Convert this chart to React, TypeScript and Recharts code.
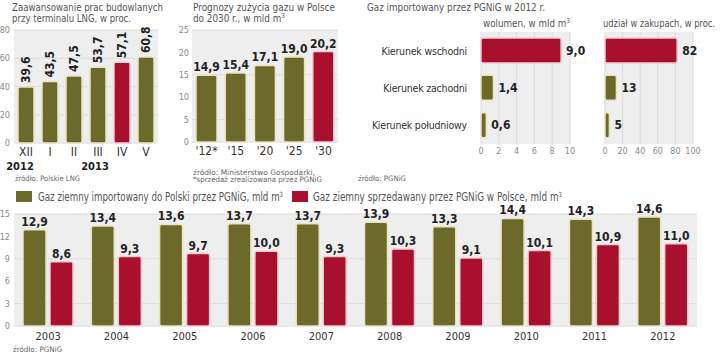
import React from "react";
import { BarChart, Bar, XAxis, YAxis, CartesianGrid, LabelList, Cell } from "recharts";

const lngMonths = ["XII", "I", "II", "III", "IV", "V"];
const lngYears = ["2012", "", "", "2013", "", ""];
const lngProgress = [39.6, 43.5, 47.5, 53.7, 57.1, 60.8];
const lngTicks = [0, 20, 40, 60, 80];

const forecastYears = ["'12*", "'15", "'20", "'25", "'30"];
const forecastUse = [14.9, 15.4, 17.1, 19.0, 20.2];
const forecastTicks = [0, 5, 10, 15, 20, 25];

const directions = ["Kierunek wschodni", "Kierunek zachodni", "Kierunek południowy"];
const importVolume = [9.0, 1.4, 0.6];
const importShare = [82, 13, 5];
const volumeTicks = [0, 2, 4, 6, 8, 10];
const shareTicks = [0, 20, 40, 60, 80, 100];

const years = ["2003", "2004", "2005", "2006", "2007", "2008", "2009", "2010", "2011", "2012"];
const imported = [12.9, 13.4, 13.6, 13.7, 13.7, 13.9, 13.3, 14.4, 14.3, 14.6];
const sold = [8.6, 9.3, 9.7, 10.0, 9.3, 10.3, 9.1, 10.1, 10.9, 11.0];
const yearTicks = [0, 3, 6, 9, 12, 15];

const GREEN = "#6b6a2b";
const RED = "#a8102e";
const GREEN_EDGE = "#e9e4c2";
const RED_EDGE = "#f0cbd3";
const BG = "#eeeeee";
const GRID = "#dcdcdc";
const FONT = "'DejaVu Sans Condensed', 'Roboto', sans-serif";

const dec = (v: number) => v.toFixed(1).replace(".", ",");
const int = (v: number) => String(Math.round(v));

const lngData = lngMonths.map((m, i) => ({ name: m, v: lngProgress[i] }));
const forecastData = forecastYears.map((y, i) => ({ name: y, v: forecastUse[i] }));
const importData = directions.map((d, i) => ({ name: d, vol: importVolume[i], share: importShare[i] }));
const yearData = years.map((y, i) => ({ name: y, imp: imported[i], sold: sold[i] }));

const numTick = { fill: "#8a8a8a", fontSize: 9, fontFamily: FONT };
const catTick = { fill: "#333", fontSize: 12, fontFamily: FONT };
const valueStyle = { fill: "#222", fontSize: 12, fontWeight: 700, fontFamily: FONT };

const VertLabel = (props: any) => {
  const { x, y, width, value } = props;
  const cx = x + width / 2;
  const ty = y - 4;
  return (
    <text x={cx} y={ty} transform={`rotate(-90 ${cx} ${ty})`} textAnchor="start" dominantBaseline="central" {...valueStyle}>
      {dec(value)}
    </text>
  );
};

const MonthTick = (props: any) => {
  const { x, y, payload, index } = props;
  const yr = lngYears[index];
  return (
    <g>
      <text x={x} y={y + 5} textAnchor="middle" {...catTick}>
        {payload.value}
      </text>
      {yr && (
        <text x={x + (index === 0 ? -6 : -3)} y={y + 19} textAnchor="middle" {...catTick} fontSize={11} fill="#222" fontWeight={600}>
          {yr}
        </text>
      )}
    </g>
  );
};

const DirTick = (props: any) => {
  const { x, y, payload } = props;
  return (
    <text x={x} y={y} dy={4} textAnchor="end" fill="#333" fontSize={10.5} fontFamily={FONT} letterSpacing={-0.2}>
      {payload.value}
    </text>
  );
};

// free text drawn in one overlay, squeezed to the widths of the narrow original face
const T = ({ x, y, len, size = 10.5, fill = "#555", children }: any) => (
  <text x={x} y={y} fontSize={size} fill={fill} fontFamily={FONT} textLength={len} lengthAdjust="spacingAndGlyphs">
    {children}
  </text>
);
const Sup = () => (
  <tspan dy={-4} fontSize={7}>
    3
  </tspan>
);

function Overlay() {
  return (
    <svg width={720} height={354} style={{ position: "absolute", left: 0, top: 0, pointerEvents: "none" }}>
      <T x={12} y={11} len={151}>Zaawansowanie prac budowlanych</T>
      <T x={12} y={22} len={119}>przy terminalu LNG, w proc.</T>
      <T x={193} y={11} len={142}>Prognozy zużycia gazu w Polsce</T>
      <T x={193} y={22} len={92}>
        do 2030 r., w mld m<Sup />
      </T>
      <T x={367} y={11} len={178}>Gaz importowany przez PGNiG w 2012 r.</T>
      <T x={483} y={27} len={87}>
        wolumen, w mld m<Sup />
      </T>
      <T x={603} y={27} len={112}>udział w zakupach, w proc.</T>

      <T x={15} y={181} len={65} size={7.5} fill="#666">źródło: Polskie LNG</T>
      <T x={193} y={175} len={122} size={7.5} fill="#666">źródło: Ministerstwo Gospodarki,</T>
      <T x={193} y={182} len={129} size={7.5} fill="#666">*sprzedaż zrealizowana przez PGNiG</T>
      <T x={358} y={181} len={48} size={7.5} fill="#666">źródło: PGNiG</T>

      <rect x={16} y={191} width={16} height={11} fill={GREEN} />
      <T x={38} y={201} len={245} size={11.5}>
        Gaz ziemny importowany do Polski przez PGNiG, mld m<Sup />
      </T>
      <rect x={292} y={191} width={16} height={11} fill={RED} />
      <T x={313} y={201} len={249} size={11.5}>
        Gaz ziemny sprzedawany przez PGNiG w Polsce, mld m<Sup />
      </T>

      <T x={13} y={352} len={49} size={7.5} fill="#666">źródło: PGNiG</T>
    </svg>
  );
}

export default function App() {
  return (
    <div style={{ position: "absolute", left: 0, top: 0, width: 720, height: 354, background: "#fff", overflow: "hidden" }}>
      {/* LNG terminal progress */}
      <div style={{ position: "absolute", left: 0, top: 0 }}>
        <BarChart width={170} height={175} data={lngData} margin={{ top: 30, right: 12, bottom: 2, left: 0 }} barSize={16}>
          <CartesianGrid vertical={false} fill={BG} stroke={GRID} />
          <YAxis width={14} domain={[0, 80]} ticks={lngTicks} axisLine={false} tickLine={false} tickSize={0} tickMargin={4} tick={numTick} />
          <XAxis dataKey="name" height={30} axisLine={false} tickLine={false} tick={<MonthTick />} interval={0} />
          <Bar dataKey="v" isAnimationActive={false} radius={2} strokeWidth={1.5}>
            {lngData.map((d) => (
              <Cell key={d.name} fill={d.name === "IV" ? RED : GREEN} stroke={d.name === "IV" ? RED_EDGE : GREEN_EDGE} />
            ))}
            <LabelList dataKey="v" content={<VertLabel />} />
          </Bar>
        </BarChart>
      </div>

      {/* gas use forecast */}
      <div style={{ position: "absolute", left: 168, top: 0 }}>
        <BarChart width={175} height={175} data={forecastData} margin={{ top: 30, right: 5, bottom: 3, left: 0 }} barSize={21}>
          <CartesianGrid vertical={false} fill={BG} stroke={GRID} />
          <YAxis width={24} domain={[0, 25]} ticks={forecastTicks} axisLine={false} tickLine={false} tickSize={0} tickMargin={3} tick={numTick} />
          <XAxis dataKey="name" height={30} axisLine={false} tickLine={false} tickSize={2} tick={catTick} interval={0} />
          <Bar dataKey="v" isAnimationActive={false} radius={2} strokeWidth={1.5}>
            {forecastData.map((d) => (
              <Cell key={d.name} fill={d.name === "'30" ? RED : GREEN} stroke={d.name === "'30" ? RED_EDGE : GREEN_EDGE} />
            ))}
            <LabelList dataKey="v" position="top" offset={4} formatter={(v: any) => dec(v)} style={valueStyle} />
          </Bar>
        </BarChart>
      </div>

      {/* imports by direction */}
      <div style={{ position: "absolute", left: 360, top: 28 }}>
        <BarChart width={230} height={135} data={importData} layout="vertical" margin={{ top: 4, right: 20, bottom: 1, left: 0 }} barSize={25}>
          <CartesianGrid horizontal={false} fill={BG} stroke={GRID} />
          <XAxis type="number" domain={[0, 10]} ticks={volumeTicks} interval={0} height={18} axisLine={false} tickLine={false} tickSize={0} tickMargin={4} tick={numTick} />
          <YAxis type="category" dataKey="name" width={121} axisLine={false} tickLine={false} tickSize={0} tickMargin={14} tick={<DirTick />} />
          <Bar dataKey="vol" isAnimationActive={false} radius={2} strokeWidth={1.5}>
            {importData.map((d, i) => (
              <Cell key={d.name} fill={i === 0 ? RED : GREEN} stroke={i === 0 ? RED_EDGE : GREEN_EDGE} />
            ))}
            <LabelList dataKey="vol" position="right" offset={5} formatter={(v: any) => dec(v)} style={valueStyle} />
          </Bar>
        </BarChart>
      </div>
      <div style={{ position: "absolute", left: 590, top: 28 }}>
        <BarChart width={125} height={135} data={importData} layout="vertical" margin={{ top: 4, right: 22, bottom: 1, left: 15 }} barSize={25}>
          <CartesianGrid horizontal={false} fill={BG} stroke={GRID} />
          <XAxis type="number" domain={[0, 100]} ticks={shareTicks} interval={0} height={18} axisLine={false} tickLine={false} tickSize={0} tickMargin={4} tick={numTick} />
          <YAxis type="category" dataKey="name" hide />
          <Bar dataKey="share" isAnimationActive={false} radius={2} strokeWidth={1.5}>
            {importData.map((d, i) => (
              <Cell key={d.name} fill={i === 0 ? RED : GREEN} stroke={i === 0 ? RED_EDGE : GREEN_EDGE} />
            ))}
            <LabelList dataKey="share" position="right" offset={5} formatter={(v: any) => int(v)} style={valueStyle} />
          </Bar>
        </BarChart>
      </div>

      {/* yearly import vs sales */}
      <div style={{ position: "absolute", left: 0, top: 195 }}>
        <BarChart width={720} height={159} data={yearData} margin={{ top: 19, right: 23, bottom: 8, left: 0 }} barSize={23} barGap={4}>
          <CartesianGrid vertical={false} fill={BG} stroke={GRID} />
          <YAxis width={14} domain={[0, 15]} ticks={yearTicks} axisLine={false} tickLine={false} tickSize={0} tickMargin={4} tick={numTick} />
          <XAxis dataKey="name" height={20} axisLine={false} tickLine={false} tickSize={4} tick={{ ...catTick, fontSize: 11 }} interval={0} />
          <Bar dataKey="imp" fill={GREEN} stroke={GREEN_EDGE} strokeWidth={1.5} radius={2} isAnimationActive={false}>
            <LabelList dataKey="imp" position="top" offset={4} formatter={(v: any) => dec(v)} style={valueStyle} />
          </Bar>
          <Bar dataKey="sold" fill={RED} stroke={RED_EDGE} strokeWidth={1.5} radius={2} isAnimationActive={false}>
            <LabelList dataKey="sold" position="top" offset={4} formatter={(v: any) => dec(v)} style={valueStyle} />
          </Bar>
        </BarChart>
      </div>

      <Overlay />
    </div>
  );
}
